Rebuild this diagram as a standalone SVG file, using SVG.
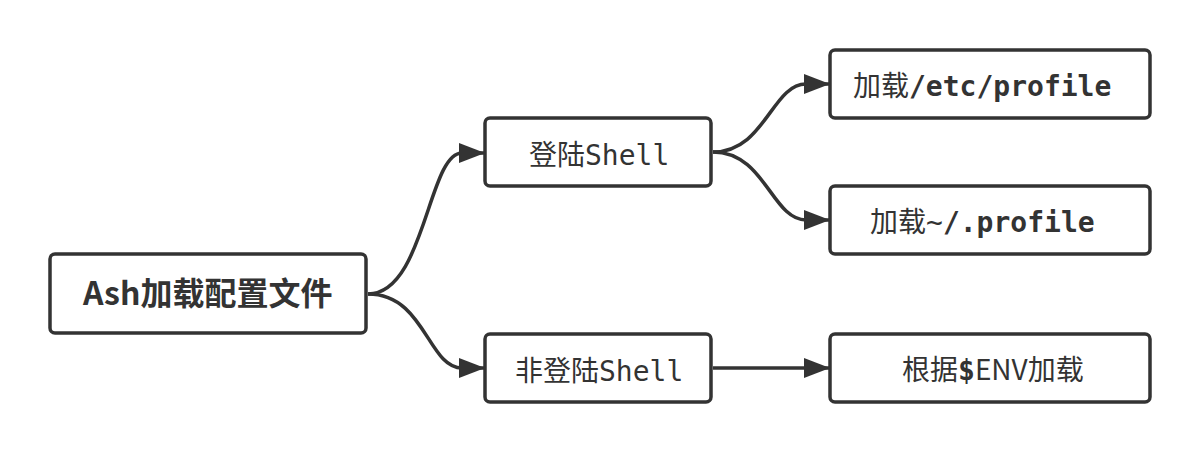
<svg xmlns="http://www.w3.org/2000/svg" width="1200" height="452" viewBox="0 0 1200 452">
<style>
.box{fill:#fff;stroke:#333;stroke-width:3.5}
.t{font-family:"Noto Sans CJK SC","Noto Sans",sans-serif;font-size:28px;fill:#333}
.m{font-family:"DejaVu Sans Mono","Liberation Mono",monospace}
.b{font-weight:bold}
.c{fill:none;stroke:#333;stroke-width:3.5}
</style>
<defs>
<marker id="ah" markerUnits="userSpaceOnUse" viewBox="0 0 26 20" refX="26" refY="10" markerWidth="26" markerHeight="20" orient="auto">
<path d="M0,0 L26,10 L0,20 z" fill="#333"/>
</marker>
</defs>
<rect width="1200" height="452" fill="#fff"/>
<g id="connectors">
<path class="c" d="M368,294 C425,294 428,153 462,153 L485,153" marker-end="url(#ah)"/>
<path class="c" d="M368,294 C425,294 428,368 462,368 L485,368" marker-end="url(#ah)"/>
<path class="c" d="M713,152 C765,152 772,84 806,84 L830,84" marker-end="url(#ah)"/>
<path class="c" d="M713,152 C765,152 772,220 806,220 L830,220" marker-end="url(#ah)"/>
<path class="c" d="M713,368 L830,368" marker-end="url(#ah)"/>
</g>
<g id="root">
<rect class="box" x="50" y="254" width="316" height="79" rx="5"/>
<text class="t b" x="83" y="305" style="font-size:32px">Ash加载配置文件</text>
</g>
<g id="login">
<rect class="box" x="485" y="118" width="226" height="68" rx="5"/>
<text class="t" x="529" y="165">登陆<tspan class="m">Shell</tspan></text>
</g>
<g id="nonlogin">
<rect class="box" x="485" y="334" width="226" height="68" rx="5"/>
<text class="t" x="515" y="381">非登陆<tspan class="m">Shell</tspan></text>
</g>
<g id="etcprofile">
<rect class="box" x="830" y="50" width="320" height="68" rx="5"/>
<text class="t" x="853" y="96">加载<tspan class="m b">/etc/profile</tspan></text>
</g>
<g id="homeprofile">
<rect class="box" x="830" y="186" width="320" height="68" rx="5"/>
<text class="t" x="870" y="232">加载<tspan class="m">~</tspan><tspan class="m b">/.profile</tspan></text>
</g>
<g id="env">
<rect class="box" x="830" y="334" width="320" height="68" rx="5"/>
<text class="t" x="902" y="380">根据<tspan class="m b">$</tspan>ENV加载</text>
</g>
</svg>
